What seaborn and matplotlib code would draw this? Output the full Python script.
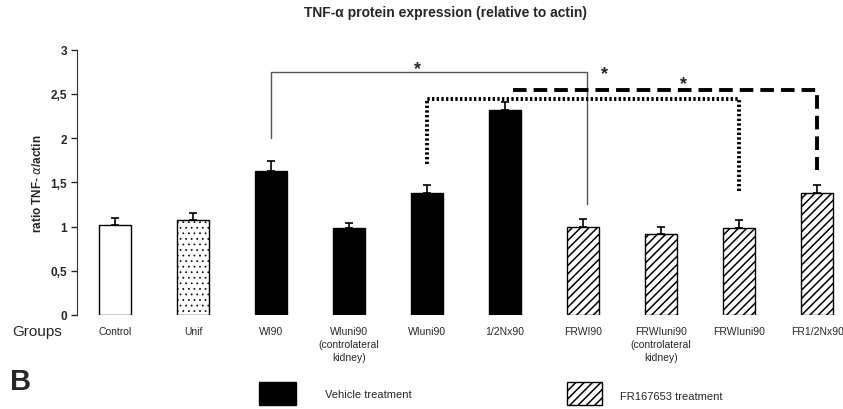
import numpy as np
import pandas as pd
import matplotlib
matplotlib.use('Agg')
import matplotlib.pyplot as plt
import seaborn as sns
from matplotlib.patches import Rectangle

# values
groups = ['Control', 'Unif', 'WI90', 'WIuni90\n(controlateral\nkidney)', 'WIuni90',
          '1/2Nx90', 'FRWI90', 'FRWIuni90\n(controlateral\nkidney)', 'FRWIuni90', 'FR1/2Nx90']
ratio = [1.02, 1.07, 1.63, 0.98, 1.38, 2.32, 1.00, 0.92, 0.98, 1.38]
sem = [0.08, 0.08, 0.11, 0.06, 0.09, 0.09, 0.08, 0.07, 0.09, 0.09]
fills = ['white', 'white', 'black', 'black', 'black', 'black', 'white', 'white', 'white', 'white']
hatches = ['', '...', '', '', '', '', '////', '////', '////', '////']
ytick_vals = [0, 0.5, 1, 1.5, 2, 2.5, 3]
ytick_labels = ['0', '0,5', '1', '1,5', '2', '2,5', '3']

sns.set_style('white')
plt.rcParams['font.family'] = ['Liberation Sans', 'DejaVu Sans']
plt.rcParams['hatch.linewidth'] = 1.1

df = pd.DataFrame({'group': groups, 'ratio': ratio})

fig = plt.figure(figsize=(8.43, 4.10), dpi=100)
ax = fig.add_axes([0.0913, 0.2293, 0.9058, 0.647])

sns.barplot(data=df, x='group', y='ratio', hue='group', palette=fills, legend=False,
            edgecolor='black', linewidth=1, width=0.41, errorbar=None, ax=ax)
for bar, h in zip(ax.patches, hatches):
    bar.set_hatch(h)
ax.patches[1].set_hatch_linewidth(0.5)

ax.errorbar(range(len(groups)), ratio, yerr=[np.zeros(len(sem)), sem], fmt='none',
            ecolor='black', elinewidth=1.2, capsize=3, capthick=1.2)

ax.set_xlim(-0.49, 9.3)
ax.set_ylim(0, 3)
ax.set_yticks(ytick_vals)
ax.set_yticklabels(ytick_labels, fontsize=8.5, fontweight='bold')
ax.tick_params(axis='y', length=4, width=1, direction='out', pad=3, left=True)
ax.tick_params(axis='x', length=0, pad=8, labelsize=7.5)
for lab in ax.get_xticklabels():
    lab.set_linespacing(1.35)
ax.set_xlabel('')
ax.set_ylabel(r'ratio TNF- $\alpha$/actin', fontsize=8.5, fontweight='bold', labelpad=5)
sns.despine(ax=ax, bottom=True)
ax.spines['left'].set_color('#333333')

# significance brackets
ax.plot([2, 2, 6.05, 6.05], [2.0, 2.75, 2.75, 1.26], color='#555555', lw=1)
ax.plot([4, 4, 8, 8], [1.71, 2.44, 2.44, 1.38], color='black', lw=2.8, ls=(0, (0.6, 0.6)))
ax.plot([5.1, 9, 9], [2.54, 2.54, 1.64], color='black', lw=2.8, ls=(0, (3.5, 1.8)))
for sx, sy in [(3.88, 2.73), (6.27, 2.68), (7.28, 2.57)]:
    ax.text(sx, sy, '*', fontsize=13, fontweight='bold', ha='center', va='baseline')

fig.text(0.529, 0.958, 'TNF-\u03b1 protein expression (relative to actin)',
         fontsize=10, fontweight='bold', ha='center', va='baseline')
fig.text(0.014, 0.180, 'Groups', fontsize=11, va='baseline')
fig.text(0.012, 0.049, 'B', fontsize=21, fontweight='bold', va='baseline')

# legend boxes
fig.add_artist(Rectangle((259 / 843, 1 - 406 / 410), 37 / 843, 23 / 410,
                         facecolor='black', edgecolor='black', transform=fig.transFigure))
fig.add_artist(Rectangle((567 / 843, 1 - 406 / 410), 35 / 843, 23 / 410,
                         facecolor='white', edgecolor='black', hatch='////', lw=1,
                         transform=fig.transFigure))
fig.text(325 / 843, 1 - 395 / 410, 'Vehicle treatment', fontsize=8, va='center')
fig.text(620 / 843, 1 - 397 / 410, 'FR167653 treatment', fontsize=8, va='center')

fig.savefig('out.png', dpi=100)
